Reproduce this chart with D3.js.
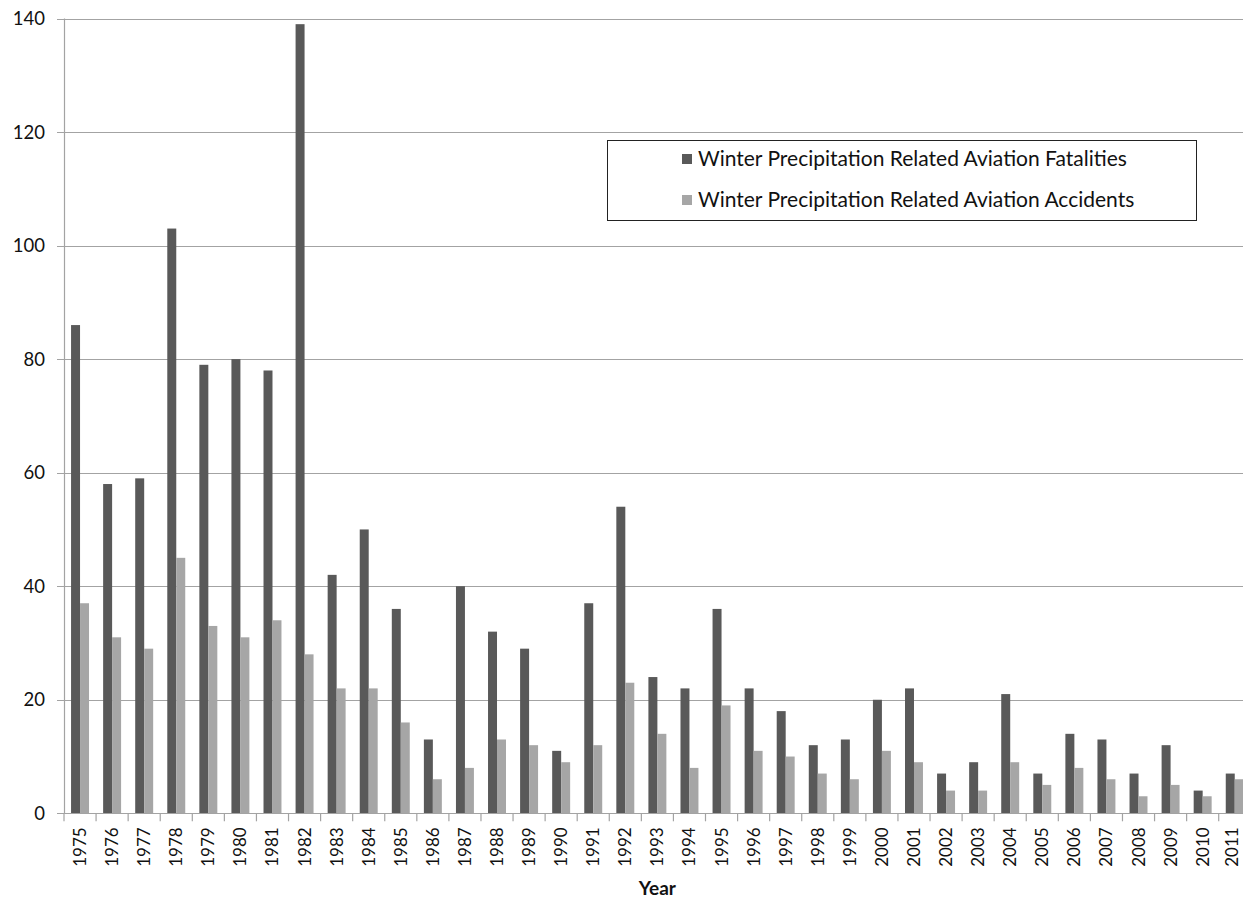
<!DOCTYPE html>
<html>
<head>
<meta charset="utf-8">
<script src="https://cdn.jsdelivr.net/npm/d3@7"></script>
<style>
  body { margin: 0; background: #fff; }
  text { font-family: Lato, "Open Sans", sans-serif; }
</style>
</head>
<body>
<div id="chart"></div>
<script>
// data
const years = d3.range(1975, 2012).map(String);
const fatalities = [86, 58, 59, 103, 79, 80, 78, 139, 42, 50, 36, 13, 40, 32, 29, 11, 37, 54, 24, 22, 36, 22, 18, 12, 13, 20, 22, 7, 9, 21, 7, 14, 13, 7, 12, 4, 7];
const accidents = [37, 31, 29, 45, 33, 31, 34, 28, 22, 22, 16, 6, 8, 13, 12, 9, 12, 23, 14, 8, 19, 11, 10, 7, 6, 11, 9, 4, 4, 9, 5, 8, 6, 3, 5, 3, 6];
const seriesNames = ["Winter Precipitation Related Aviation Fatalities", "Winter Precipitation Related Aviation Accidents"];
const seriesColors = ["#595959", "#a6a6a6"];
const yTicks = [0, 20, 40, 60, 80, 100, 120, 140];

const W = 1243, H = 899;
const margin = { top: 18.5, left: 64, bottom: 85.7 };
const plotRight = 64 + 37 * 32.075;

const svg = d3.select("#chart").append("svg")
    .attr("width", W)
    .attr("height", H);

const x = d3.scaleBand()
    .domain(years)
    .range([margin.left, plotRight]);

const y = d3.scaleLinear()
    .domain([0, 140])
    .range([H - margin.bottom, margin.top]);

const barW = x.bandwidth() * 0.28;

// gridlines
svg.append("g")
    .selectAll("line")
    .data(yTicks)
    .enter()
    .append("line")
    .attr("x1", margin.left - 7)
    .attr("x2", W)
    .attr("y1", d => Math.round(y(d)) + 0.5)
    .attr("y2", d => Math.round(y(d)) + 0.5)
    .style("stroke", "#a3a3a3")
    .style("stroke-width", 1.2);

// y labels
svg.append("g")
    .selectAll("text")
    .data(yTicks)
    .enter()
    .append("text")
    .attr("x", 45)
    .attr("y", d => y(d) + 6.5)
    .style("text-anchor", "end")
    .style("font-size", "18.5px")
    .style("fill", "#111")
    .text(d => d);

// bars
const series = [fatalities, accidents];
series.forEach((vals, s) => {
    svg.append("g")
        .selectAll("rect")
        .data(vals)
        .enter()
        .append("rect")
        .attr("x", (d, i) => x(years[i]) + x.bandwidth() / 2 - barW + s * barW)
        .attr("y", d => y(d))
        .attr("width", barW)
        .attr("height", d => y(0) - y(d))
        .style("fill", seriesColors[s]);
});

// y axis line
svg.append("line")
    .attr("x1", margin.left + 0.5)
    .attr("x2", margin.left + 0.5)
    .attr("y1", y(140))
    .attr("y2", y(0))
    .style("stroke", "#a3a3a3")
    .style("stroke-width", 1.2);

// x axis with ticks between categories
const xAxis = svg.append("g");
xAxis.append("line")
    .attr("x1", margin.left)
    .attr("x2", W)
    .attr("y1", Math.round(y(0)) + 0.5)
    .attr("y2", Math.round(y(0)) + 0.5)
    .style("stroke", "#a3a3a3")
    .style("stroke-width", 1.2);

xAxis.selectAll(".tick")
    .data(years.concat(["end"]))
    .enter()
    .append("line")
    .attr("x1", (d, i) => margin.left + i * x.step())
    .attr("x2", (d, i) => margin.left + i * x.step())
    .attr("y1", y(0))
    .attr("y2", y(0) + 8)
    .style("stroke", "#a3a3a3")
    .style("stroke-width", 1.2);

// last label sits at the right edge, keep it inside the picture
xAxis.selectAll(".xlabel")
    .data(years)
    .enter()
    .append("text")
    .attr("transform", d => `translate(${Math.min(x(d) + x.bandwidth() / 2 + 6, W - 5)},${y(0) + 14}) rotate(-90)`)
    .style("text-anchor", "end")
    .style("font-size", "17px")
    .style("fill", "#111")
    .text(d => d);

svg.append("text")
    .attr("x", (margin.left + plotRight) / 2)
    .attr("y", 895)
    .style("text-anchor", "middle")
    .style("font-size", "19px")
    .style("font-weight", "bold")
    .style("fill", "#111")
    .text("Year");

// legend
const legend = svg.append("g");
legend.append("rect")
    .attr("x", 607.5)
    .attr("y", 140.5)
    .attr("width", 589)
    .attr("height", 80)
    .style("fill", "#fff")
    .style("stroke", "#222")
    .style("stroke-width", 1);

seriesNames.forEach((name, i) => {
    const cy = 159 + i * 41;
    legend.append("rect")
        .attr("x", 682)
        .attr("y", cy - 5)
        .attr("width", 10)
        .attr("height", 10)
        .style("fill", seriesColors[i]);
    legend.append("text")
        .attr("x", 698)
        .attr("y", cy + 7)
        .style("font-size", "21px")
        .style("fill", "#111")
        .text(name);
});
</script>
</body>
</html>
